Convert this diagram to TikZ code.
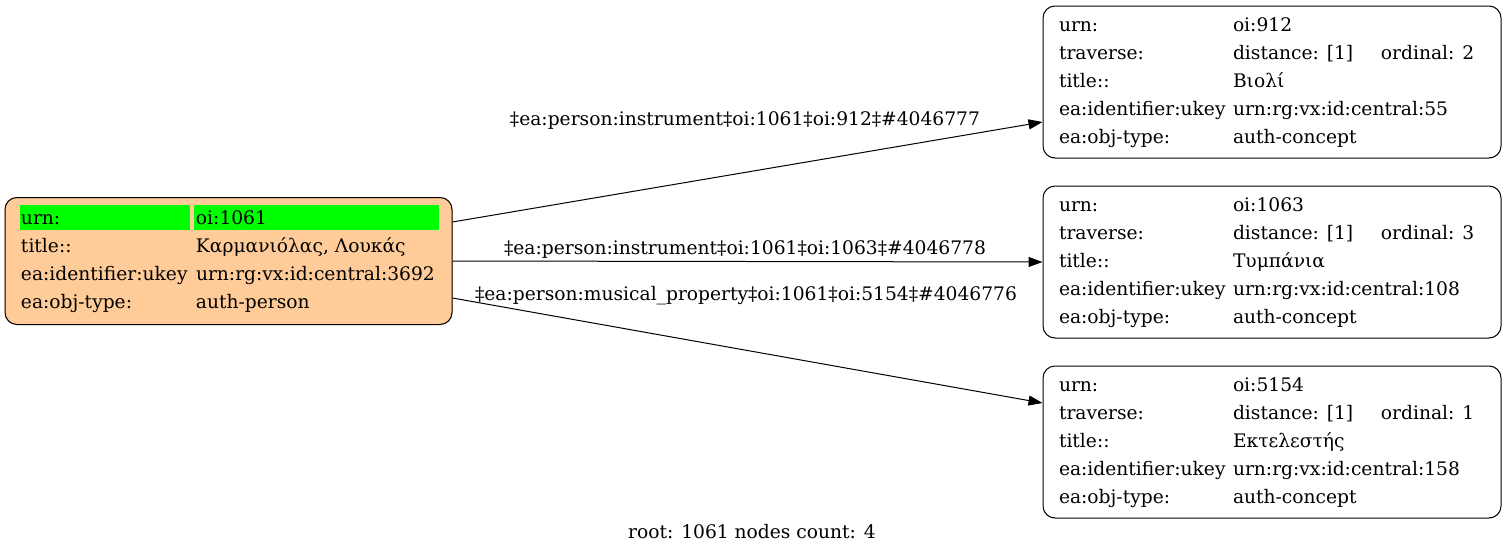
\documentclass[tikz,border=0pt]{standalone}
\usepackage{fontspec}
\setmainfont{DejaVu Serif}
\usetikzlibrary{arrows.meta}
\usetikzlibrary{positioning}
\usetikzlibrary{backgrounds}
\definecolor{rootfill}{RGB}{255,204,153}
\definecolor{urnhl}{RGB}{0,255,0}
\tikzset {
  % record box of a concept
  record/.style = {
    draw = black,
    line width = 0.75pt,
    rounded corners = 9pt,
    inner sep = 0,
    minimum width = 343.5pt,
    minimum height = 114pt
  },
  % record box of the root person
  rootrec/.style = {
    record,
    minimum width = 335.25pt,
    minimum height = 95.25pt
  },
  % highlighted urn cell
  hlcell/.style = {
    fill = urnhl
  },
  % edge between records
  link/.style = {
    draw = black,
    line width = 0.75pt,
    -{Triangle[length=10.5pt,width=7.5pt]}
  },
  link label/.style = {
    inner sep = 0
  },
  node distance = 20.25pt
}
% rows of a concept record
\newcommand{\concepttab}[4]{%
  \begin{tabular}{@{}p{130.5pt}@{}p{111pt}@{}p{78pt}@{}}
    urn: & oi:#1 & \\
    traverse: & distance: [1] & ordinal: #2 \\
    title:: & #3 & \\
    ea:identifier:ukey & urn:rg:vx:id:central:#4 & \\
    ea:obj-type: & auth-concept &
  \end{tabular}}

\begin{document}
\begin{tikzpicture}[x=0.75pt, y=-0.75pt, font=\fontsize{14}{21}\selectfont]
    \useasboundingbox (0,0) rectangle (1507,553);

    \node[rootrec] (person1061) at (228.5,261) {%
      \begin{tabular}{@{}p{131.25pt}@{}p{180pt}@{}}
        urn: & oi:1061 \\
        title:: & Καρμανιόλας, Λουκάς \\
        ea:identifier:ukey & urn:rg:vx:id:central:3692 \\
        ea:obj-type: & auth-person
      \end{tabular}};
    \node[record] (concept912) at (1272,82) {\concepttab{912}{2}{Βιολί}{55}};
    \node[record] (concept1063) [below=of concept912] {\concepttab{1063}{3}{Τυμπάνια}{108}};
    \node[record] (concept5154) [below=of concept1063] {\concepttab{5154}{1}{Εκτελεστής}{158}};

    \begin{scope}[on background layer]
      \fill[rootfill, rounded corners=9pt] (person1061.north west) rectangle (person1061.south east);
      \fill[hlcell] ([shift={(15,8)}]person1061.north west) rectangle ([shift={(185,33)}]person1061.north west);
      \fill[hlcell] ([shift={(189,8)}]person1061.north west) rectangle ([shift={(434,33)}]person1061.north west);
    \end{scope}

    \draw[link] ([yshift=29.25pt]person1061.east) -- ([yshift=-30pt]concept912.west);
    \draw[link] (person1061.east) -- (concept1063.west);
    \draw[link] ([yshift=-27.75pt]person1061.east) -- ([yshift=29.25pt]concept5154.west);

    \node[link label] (label912) at (745,121) {‡ea:person:instrument‡oi:1061‡oi:912‡\#4046777};
    \node[link label] (label1063) at (745,250) {‡ea:person:instrument‡oi:1061‡oi:1063‡\#4046778};
    \node[link label] (label5154) at (746,296) {‡ea:person:musical\_property‡oi:1061‡oi:5154‡\#4046776};

    \node (footer) at (752,532) {root: 1061 nodes count: 4};
  \end{tikzpicture}
\end{document}
